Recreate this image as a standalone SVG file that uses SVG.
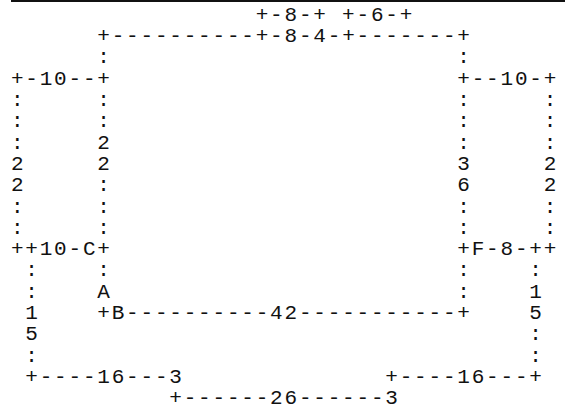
<svg xmlns="http://www.w3.org/2000/svg" width="565" height="409" viewBox="0 0 565 409">
<style>
text{font-family:"Liberation Mono","Courier New",monospace;font-size:21px;letter-spacing:1.8px;fill:#111;white-space:pre}
.rule{stroke:#111;stroke-width:2}
</style>
<rect width="565" height="409" fill="#fff"/>
<line class="rule" x1="11" y1="1" x2="565" y2="1"/>
<g id="connectors">
<g id="top-tabs">
<text x="255.7" y="20.8">+-8-+</text>
<text x="342.1" y="20.8">+-6-+</text>
</g>
<g id="top-edge">
<text x="97.3" y="42.1">+----------+-8-4-+-------+</text>
</g>
<g id="left-box">
<text x="10.9" y="84.7">+-10--+</text>
<text><tspan x="10.9" y="106.0">:</tspan><tspan x="10.9" y="127.3">:</tspan><tspan x="10.9" y="148.6">:</tspan><tspan x="10.9" y="169.9">2</tspan><tspan x="10.9" y="191.2">2</tspan><tspan x="10.9" y="212.5">:</tspan><tspan x="10.9" y="233.8">:</tspan></text>
<text x="10.9" y="255.1">++10-C+</text>
</g>
<g id="left-inner">
<text><tspan x="97.3" y="63.4">:</tspan><tspan x="97.3" y="106.0">:</tspan><tspan x="97.3" y="127.3">:</tspan><tspan x="97.3" y="148.6">2</tspan><tspan x="97.3" y="169.9">2</tspan><tspan x="97.3" y="191.2">:</tspan><tspan x="97.3" y="212.5">:</tspan><tspan x="97.3" y="233.8">:</tspan><tspan x="97.3" y="276.4">:</tspan><tspan x="97.3" y="297.7">A</tspan></text>
</g>
<g id="right-inner">
<text><tspan x="457.3" y="63.4">:</tspan><tspan x="457.3" y="106.0">:</tspan><tspan x="457.3" y="127.3">:</tspan><tspan x="457.3" y="148.6">:</tspan><tspan x="457.3" y="169.9">3</tspan><tspan x="457.3" y="191.2">6</tspan><tspan x="457.3" y="212.5">:</tspan><tspan x="457.3" y="233.8">:</tspan><tspan x="457.3" y="276.4">:</tspan><tspan x="457.3" y="297.7">:</tspan></text>
</g>
<g id="right-box">
<text x="457.3" y="84.7">+--10-+</text>
<text><tspan x="543.7" y="106.0">:</tspan><tspan x="543.7" y="127.3">:</tspan><tspan x="543.7" y="148.6">:</tspan><tspan x="543.7" y="169.9">2</tspan><tspan x="543.7" y="191.2">2</tspan><tspan x="543.7" y="212.5">:</tspan><tspan x="543.7" y="233.8">:</tspan></text>
<text x="457.3" y="255.1">+F-8-++</text>
</g>
<g id="bottom-edge">
<text x="97.3" y="319.0">+B----------42-----------+</text>
</g>
<g id="left-lower">
<text><tspan x="25.3" y="276.4">:</tspan><tspan x="25.3" y="297.7">:</tspan><tspan x="25.3" y="319.0">1</tspan><tspan x="25.3" y="340.3">5</tspan><tspan x="25.3" y="361.6">:</tspan></text>
<text x="25.3" y="382.9">+----16---3</text>
</g>
<g id="right-lower">
<text><tspan x="529.3" y="276.4">:</tspan><tspan x="529.3" y="297.7">1</tspan><tspan x="529.3" y="319.0">5</tspan><tspan x="529.3" y="340.3">:</tspan><tspan x="529.3" y="361.6">:</tspan></text>
<text x="385.3" y="382.9">+----16---+</text>
</g>
<g id="bottom-bridge">
<text x="169.3" y="404.2">+------26------3</text>
</g>
</g>
</svg>
